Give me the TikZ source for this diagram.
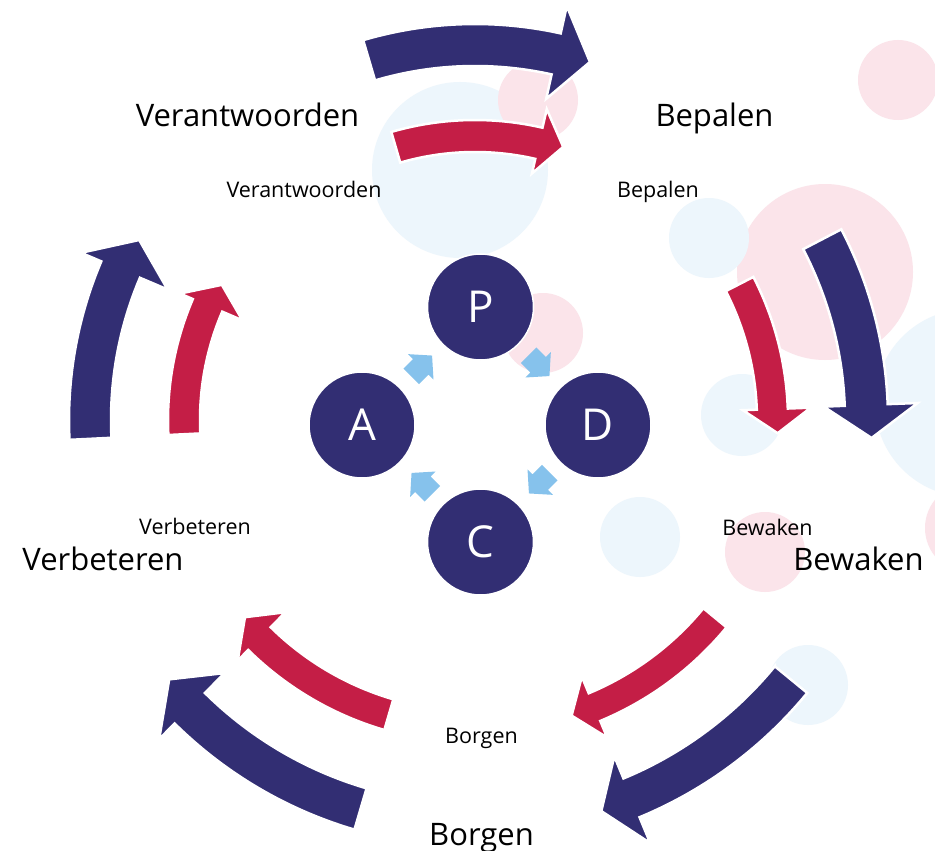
\documentclass[tikz,border=0pt]{standalone}
\usepackage{fontspec}
\setmainfont{Open Sans}
\definecolor{navy}{RGB}{50,46,115}
\definecolor{crim}{RGB}{196,30,70}
\definecolor{skyarrow}{RGB}{134,194,236}
\definecolor{pinkbg}{RGB}{251,228,234}
\definecolor{bluebg}{RGB}{237,246,252}
% #1 colour, #2 tail angle, #3 head-base angle, #4 tip angle,
% #5 inner radius, #6 outer radius, #7 head inner radius, #8 head outer radius, #9 tip radius
\newcommand\bandarrow[9]{%
  \path[fill=#1, draw=white, line width=2.5pt, line join=miter]
    (#2:#5) -- (#2:#6)
    -- plot[domain=#2:#3, samples=40, variable=\t] ({\t}:{#6})
    -- (#3:#8) -- (#4:#9) -- (#3:#7) -- (#3:#5)
    -- plot[domain=#3:#2, samples=40, variable=\t] ({\t}:{#5})
    -- cycle;}
\tikzset{
  pdca/.style={circle, fill=navy, draw=white, line width=1.5pt, minimum size=106pt,
    inner sep=0pt, text=white, font=\fontsize{44}{44}\selectfont},
  biglab/.style={anchor=base, inner sep=0pt, font=\fontsize{31}{36}\selectfont},
  smalllab/.style={anchor=base, inner sep=0pt, font=\fontsize{21.5}{25}\selectfont},
  pinkdot/.style={fill=pinkbg},
  bluedot/.style={fill=bluebg},
}
\begin{document}
\begin{tikzpicture}[x=1pt,y=-1pt]
\path[use as bounding box, fill=white] (0,0) rectangle (935,851);
\clip (0,0) rectangle (935,851);
% background dots
\path[bluedot] (460,170) circle[radius=88];
\path[pinkdot] (898,80) circle[radius=40];
\path[pinkdot] (825,272) circle[radius=88];
\path[pinkdot] (970,528) circle[radius=45];
\path[pinkdot] (765,552) circle[radius=40];
\path[pinkdot] (538,100) circle[radius=40];
\path[pinkdot] (543,333) circle[radius=40];
\path[bluedot] (709,238) circle[radius=40];
\path[bluedot] (969,403) circle[radius=94];
\path[bluedot] (742,415) circle[radius=41];
\path[bluedot] (640,537) circle[radius=40];
\path[bluedot] (808,685) circle[radius=40];
% curved arrows
\begin{scope}[shift={(475,420)}]
  \bandarrow{navy}{-106.4}{-77.5}{-72.2}{354}{396}{329}{424}{376}
  \bandarrow{crim}{-106.2}{-77}{-72.1}{268}{300}{253}{319}{287}
  \bandarrow{navy}{-27.5}{-2.2}{2.6}{370}{413}{349}{443}{397}
  \bandarrow{crim}{-27.2}{-2.1}{2.5}{282}{313}{268}{336}{303}
  \bandarrow{navy}{39.4}{67.5}{72.1}{388}{430}{364}{458}{411}
  \bandarrow{crim}{39.5}{67.4}{71.9}{296}{326}{278}{344}{311}
  \bandarrow{navy}{106.4}{134.7}{139.7}{384}{427}{356}{449}{401}
  \bandarrow{crim}{106.3}{134.6}{139.4}{291}{323}{270}{338}{303}
  \bandarrow{navy}{177.2}{203}{208.2}{364}{406}{334}{428}{381}
  \bandarrow{crim}{177.2}{203.2}{208.1}{275}{307}{253}{321}{287}
\end{scope}
% PDCA circles
\node[pdca] (P) at (480.5,307) {P};
\node[pdca] (D) at (598,425) {D};
\node[pdca] (C) at (480.5,542) {C};
\node[pdca] (A) at (362,425) {A};
% small light-blue arrows
\foreach \r in {45,-45,-135,-225}{
  \fill[skyarrow, shift={(480.5,424.5)}, rotate=\r]
    (-15,-94) -- (-1.5,-94) -- (-1.5,-101) -- (14.5,-83) -- (-1.5,-65) -- (-1.5,-72) -- (-15,-72) -- cycle;
}
% labels
\node[biglab] (verL) at (247.5,126) {Verantwoorden};
\node[biglab] (bepL) at (714.5,126) {Bepalen};
\node[smalllab] (verS) at (304,197) {Verantwoorden};
\node[smalllab] (bepS) at (658,197) {Bepalen};
\node[smalllab] (vbS) at (195,534) {Verbeteren};
\node[biglab] (vbL) at (103,570) {Verbeteren};
\node[smalllab] (bwS) at (767.5,535) {Bewaken};
\node[biglab] (bwL) at (858.5,570) {Bewaken};
\node[smalllab] (bgS) at (481.5,743) {Borgen};
\node[biglab] (bgL) at (481.5,845) {Borgen};
\end{tikzpicture}
\end{document}
